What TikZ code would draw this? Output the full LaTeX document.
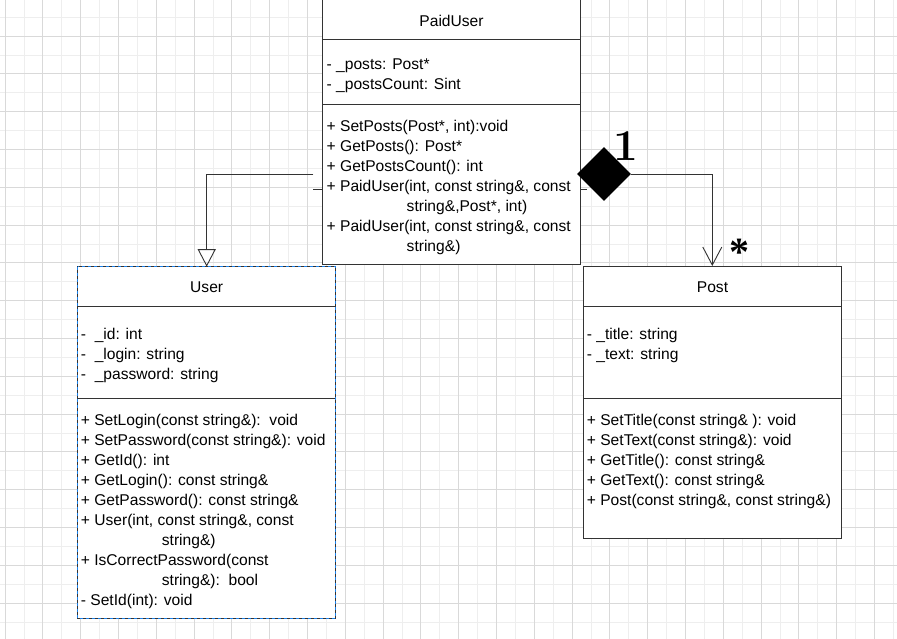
\documentclass[tikz,border=0pt]{standalone}
\usepackage{fontspec}
\setmainfont{Liberation Sans}
\newfontfamily\multfont{Liberation Serif}
\newfontfamily\onefont{Latin Modern Roman}
\usetikzlibrary{arrows.meta, shapes.geometric}
\definecolor{umlline}{HTML}{333333}
\definecolor{selblue}{HTML}{1A7FE8}
\definecolor{gridmajor}{HTML}{D9D9D9}
\definecolor{gridminor}{HTML}{EEEEEE}

\begin{document}
\begin{tikzpicture}[x=1pt, y=-1pt,
    part/.style={draw=umlline, line width=0.9pt, fill=white, anchor=north west, minimum width=258pt, inner sep=0pt, outer sep=0pt},
    member/.style={anchor=base west, inner sep=0pt, font=\fontsize{15.6}{20}\selectfont},
    cname/.style={anchor=base, inner sep=0pt, font=\fontsize{15.6}{20}\selectfont},
    link/.style={draw=umlline, line width=0.9pt}]

        % fix the drawing area and paint it white
        \useasboundingbox (0,0) rectangle (897,638);
        \fill[white] (0,0) rectangle (897,638);
        \clip (0,0) rectangle (897,638);
        % setting up the background grid, minor lines first
        \begin{scope}[shift={(5,36)}]
            \draw[gridminor, line width=0.8pt, step=18.9pt] (-10,-40) grid (900,610);
            \draw[gridmajor, line width=0.8pt, step=37.8pt] (-10,-40) grid (900,610);
        \end{scope}

        % the PaidUser class, its top runs out of the picture
        \node[part, minimum height=60pt] (paidTitle) at (322.7,-20.7) {};
        \node[part, minimum height=65pt] (paidAttr) at (paidTitle.south west) {};
        \node[part, minimum height=160pt] (paidOps) at (paidAttr.south west) {};
        \node[cname] (paidName) at (451.5,26) {PaidUser};
        \node[member] (pa1) at (326.5,69) {- \_posts: Post*};
        \node[member] (pa2) at (326.5,89) {- \_postsCount: Sint};
        \node[member] (pm1) at (326.5,131) {+ SetPosts(Post*, int):void};
        \node[member] (pm2) at (326.5,151) {+ GetPosts(): Post*};
        \node[member] (pm3) at (326.5,171) {+ GetPostsCount(): int};
        \node[member] (pm4) at (326.5,191) {+ PaidUser(int, const string\&, const};
        \node[member] (pm5) at (406.5,211) {string\&,Post*, int)};
        \node[member] (pm6) at (326.5,231) {+ PaidUser(int, const string\&, const};
        \node[member] (pm7) at (406.5,251) {string\&)};

        % the User class, selected (dashed blue outline)
        \node[part, minimum height=39.6pt] (userTitle) at (77.7,266.7) {};
        \node[part, minimum height=91.7pt] (userAttr) at (userTitle.south west) {};
        \node[part, minimum height=220.3pt] (userOps) at (userAttr.south west) {};
        \draw[selblue, line width=0.9pt, dash pattern=on 3pt off 3pt] (userTitle.north west) rectangle (userOps.south east);
        \node[cname] (userName) at (206.7,292.5) {User};
        \node[member] (ua1) at (80.7,339) {-\ \ \_id: int};
        \node[member] (ua2) at (80.7,359) {-\ \ \_login: string};
        \node[member] (ua3) at (80.7,379) {-\ \ \_password: string};
        \node[member] (um1) at (80.7,425) {+ SetLogin(const string\&):\ \ void};
        \node[member] (um2) at (80.7,445) {+ SetPassword(const string\&): void};
        \node[member] (um3) at (80.7,465) {+ GetId(): int};
        \node[member] (um4) at (80.7,485) {+ GetLogin(): const string\&};
        \node[member] (um5) at (80.7,505) {+ GetPassword(): const string\&};
        \node[member] (um6) at (80.7,525) {+ User(int, const string\&, const};
        \node[member] (um7) at (161.7,545) {string\&)};
        \node[member] (um8) at (80.7,565) {+ IsCorrectPassword(const};
        \node[member] (um9) at (161.7,585) {string\&):\ \ bool};
        \node[member] (um10) at (80.7,605) {- SetId(int): void};

        % the Post class
        \node[part, minimum height=40.3pt] (postTitle) at (583.3,266) {};
        \node[part, minimum height=91.7pt] (postAttr) at (postTitle.south west) {};
        \node[part, minimum height=140.3pt] (postOps) at (postAttr.south west) {};
        \node[cname] (postName) at (712.5,292.5) {Post};
        \node[member] (qa1) at (586.7,339) {- \_title: string};
        \node[member] (qa2) at (586.7,359) {- \_text: string};
        \node[member] (qm1) at (586.7,425) {+ SetTitle(const string\& ): void};
        \node[member] (qm2) at (586.7,445) {+ SetText(const string\&): void};
        \node[member] (qm3) at (586.7,465) {+ GetTitle(): const string\&};
        \node[member] (qm4) at (586.7,485) {+ GetText(): const string\&};
        \node[member] (qm5) at (586.7,505) {+ Post(const string\&, const string\&)};

        % inheritance: PaidUser -> User
        \coordinate (inhStart) at (313.3,174);
        \draw[link, -{Triangle[open, length=17.5pt, width=18pt]}] (inhStart) -| (userTitle.north);
        % small stubs on both sides of the PaidUser class
        \coordinate (stubL) at (313.3,189);
        \coordinate (stubR) at (587.3,189);
        \draw[link] (stubL) -- (stubL -| paidOps.west);
        \draw[link] (paidOps.east |- stubR) -- (stubR);

        % composition: PaidUser holds many Post
        \node[diamond, fill=black, minimum width=54pt, minimum height=54pt, inner sep=0pt] (comp) at (604,174) {};
        \draw[link, -{Straight Barb[length=18pt, width=19pt]}] (comp.east) -| (postTitle.north);
        \node[font=\onefont\bfseries\fontsize{44}{44}\selectfont, inner sep=0pt, anchor=north] (compOne) at (625.8,131.7) {1};
        \node[font=\multfont\bfseries\fontsize{40}{40}\selectfont, inner sep=0pt, anchor=north] (compMany) at (739,239.3) {*};
\end{tikzpicture}
\end{document}
